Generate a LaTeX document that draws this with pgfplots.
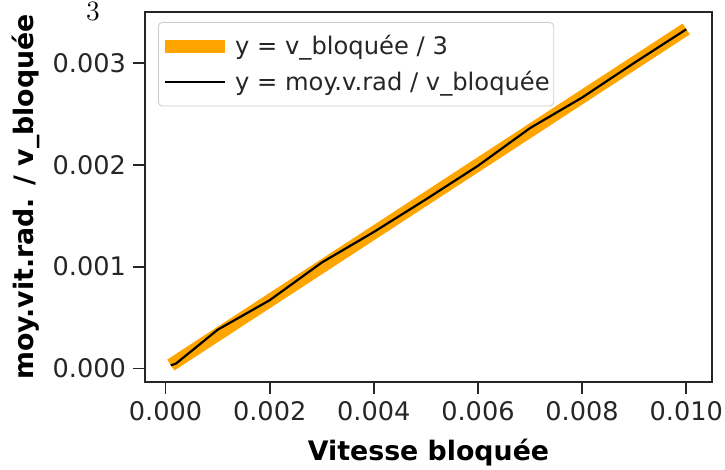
\documentclass[border=0pt]{standalone}
\usepackage{pgfplots}
\pgfplotsset{compat=1.18}
\usepackage{fontspec}
\setsansfont{DejaVu Sans}
\renewcommand{\familydefault}{\sfdefault}
\definecolor{mplorange}{HTML}{FFA500}
\begin{document}
\begin{tikzpicture}
\begin{axis}[
  name=ax,
  scale only axis,
  width=283.5pt, height=185pt,
  xmin=-0.000395, xmax=0.010495,
  ymin=-0.000133, ymax=0.0035,
  xtick={0,0.002,0.004,0.006,0.008,0.010},
  xticklabels={0.000,0.002,0.004,0.006,0.008,0.010},
  ytick={0,0.001,0.002,0.003},
  yticklabels={0.000,0.001,0.002,0.003},
  scaled ticks=false,
  /pgf/number format/assume math mode=true,
  tick align=outside,
  major tick length=6pt,
  tick style={black!85, line width=0.9pt},
  axis line style={black!85, line width=1pt},
  xtick pos=bottom, ytick pos=left,
  ticklabel style={font=\fontsize{12.8}{15}\selectfont, text=black!85},
  xlabel={Vitesse bloquée},
  ylabel={moy.vit.rad. / v\_bloquée},
  label style={font=\fontsize{13.4}{16}\selectfont\bfseries},
  xlabel style={at={(axis description cs:0.5,-0.192)}, anchor=center},
  ylabel style={at={(axis description cs:-0.21,0.5)}, anchor=center},
  legend image code/.code={\draw[#1] (0cm,0cm) -- (1.05cm,0cm);},
  legend cell align=left,
  legend style={at={(axis description cs:0.023,0.973)}, anchor=north west,
    draw=black!20, rounded corners=2pt, fill=white,
    font=\fontsize{12.1}{14.5}\selectfont, text=black!85,
    nodes={inner xsep=2pt},
    row sep=2.5pt, inner xsep=0pt, inner ysep=4.5pt},
]
\addplot[mplorange, line width=6.5pt] coordinates {
(0.0001,0.0000333) (0.0002,0.0000667) (0.0005,0.0001667) (0.001,0.0003333)
(0.002,0.0006667) (0.003,0.001) (0.004,0.0013333) (0.005,0.0016667)
(0.006,0.002) (0.007,0.0023333) (0.008,0.0026667) (0.009,0.003) (0.010,0.0033333)
};
\addlegendentry{y = v\_bloquée / 3}
\addplot[black, line width=1.1pt] coordinates {
(0.0001,0.000030) (0.0002,0.000048) (0.0005,0.000172) (0.001,0.000380)
(0.0015,0.000525) (0.002,0.000670) (0.003,0.001040) (0.004,0.001340)
(0.005,0.001660) (0.006,0.001990) (0.007,0.002360) (0.008,0.002660)
(0.009,0.003000) (0.010,0.003330)
};
\addlegendentry{y = moy.v.rad / v\_bloquée}
\end{axis}
\node[font=\rmfamily\fontsize{14}{16}\selectfont] at ([xshift=-26pt,yshift=0.5pt]ax.north west) {3};
\pgfresetboundingbox
\path[use as bounding box] ([xshift=-72.5pt,yshift=-44pt]ax.south west) rectangle ([xshift=6.5pt,yshift=6pt]ax.north east);
\end{tikzpicture}
\end{document}
